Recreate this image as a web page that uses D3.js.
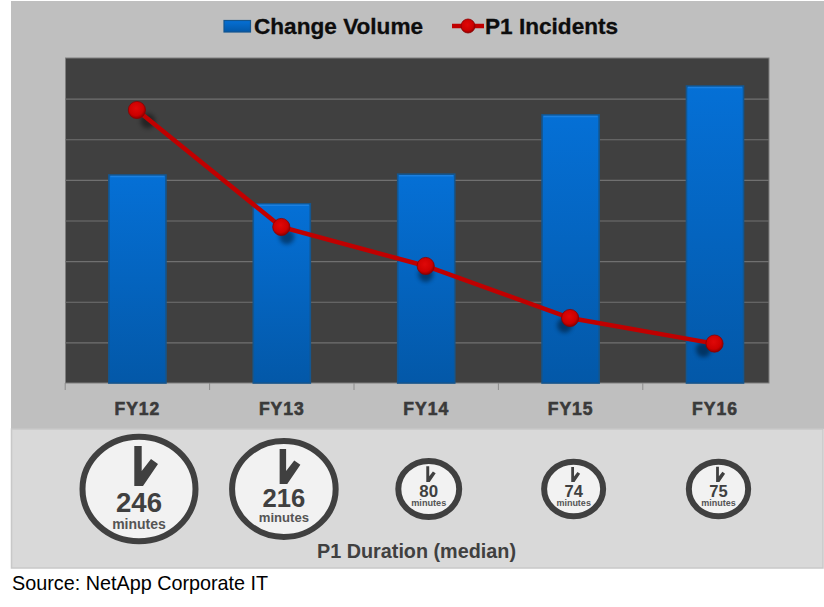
<!DOCTYPE html>
<html>
<head>
<meta charset="utf-8">
<script src="https://cdn.jsdelivr.net/npm/d3@7/dist/d3.min.js"></script>
<style>
  html, body { margin: 0; padding: 0; background: #fff; }
  svg { display: block; font-family: "Liberation Sans", Arial, sans-serif; }
</style>
</head>
<body>
<script>
const years = ["FY12", "FY13", "FY14", "FY15", "FY16"];
const changeVolume = [5.12, 4.41, 5.14, 6.6, 7.31];
const p1Incidents = [6.72, 3.84, 2.88, 1.6, 0.97];
const p1Duration = [246, 216, 80, 74, 75];
const gridTicks = [1, 2, 3, 4, 5, 6, 7];

const width = 824, height = 607;
const plot = {left: 65.5, right: 769, top: 58, bottom: 383};
const DARK = "#404040";

const svg = d3.select("body").append("svg")
  .attr("width", width)
  .attr("height", height);

// gradients and shadow
const defs = svg.append("defs");
const barGrad = defs.append("linearGradient")
  .attr("id", "barGrad").attr("x1", 0).attr("x2", 0).attr("y1", 0).attr("y2", 1);
barGrad.append("stop").attr("offset", "0%").attr("stop-color", "#0570d6");
barGrad.append("stop").attr("offset", "100%").attr("stop-color", "#0358a8");
const dotGrad = defs.append("radialGradient")
  .attr("id", "dotGrad").attr("cx", "45%").attr("cy", "40%").attr("r", "60%");
dotGrad.append("stop").attr("offset", "0%").attr("stop-color", "#e00808");
dotGrad.append("stop").attr("offset", "70%").attr("stop-color", "#cc0000");
dotGrad.append("stop").attr("offset", "100%").attr("stop-color", "#8c0000");
defs.append("filter").attr("id", "soft")
  .attr("x", "-50%").attr("y", "-50%").attr("width", "200%").attr("height", "200%")
  .append("feGaussianBlur").attr("stdDeviation", 2.2);

// panels
svg.append("rect").attr("x", 11).attr("y", 1).attr("width", 813).attr("height", 428).attr("fill", "#bfbfbf");
svg.append("rect").attr("x", 11.5).attr("y", 429).attr("width", 811.5).attr("height", 139)
  .attr("fill", "#d9d9d9").attr("stroke", "#c8c8c8").attr("stroke-width", 1.5);
svg.append("rect").attr("x", plot.left).attr("y", plot.top)
  .attr("width", plot.right - plot.left).attr("height", plot.bottom - plot.top)
  .attr("fill", DARK).attr("stroke", "#7f7f7f").attr("stroke-width", 1);

// last band runs past the plot edge in the original
const x = d3.scaleBand()
  .domain(years)
  .range([65.2, 65.2 + 5 * 144.4])
  .paddingInner(0.605)
  .paddingOuter(0.3025);

const y = d3.scaleLinear().domain([0, 8]).range([plot.bottom, plot.top]);

// grid
const yAxis = d3.axisLeft(y).tickValues(gridTicks).tickSize(-(plot.right - plot.left)).tickFormat("");
const gridG = svg.append("g").attr("transform", "translate(" + plot.left + ",0)").call(yAxis);
gridG.select(".domain").remove();
gridG.selectAll("line").attr("stroke", "#707070").attr("stroke-width", 1.2);

// bars
svg.selectAll(".bar").data(changeVolume).enter().append("rect")
  .attr("class", "bar")
  .attr("x", (d, i) => x(years[i]))
  .attr("y", d => y(d))
  .attr("width", x.bandwidth())
  .attr("height", d => y(0) - y(d))
  .attr("fill", "url(#barGrad)")
  .attr("stroke", "#14568f")
  .attr("stroke-width", 1.6);

svg.selectAll(".barTop").data(changeVolume).enter().append("line")
  .attr("class", "barTop")
  .attr("x1", (d, i) => x(years[i]) + 1.5)
  .attr("x2", (d, i) => x(years[i]) + x.bandwidth() - 1.5)
  .attr("y1", d => y(d) + 1.5)
  .attr("y2", d => y(d) + 1.5)
  .attr("stroke", "#1c80e0")
  .attr("stroke-width", 1.5);

// x axis: labels from the axis, ticks on the band edges
const xAxis = d3.axisBottom(x).tickSize(0).tickPadding(19.5);
const xG = svg.append("g").attr("transform", "translate(0," + plot.bottom + ")").call(xAxis);
xG.select(".domain").remove();
xG.selectAll("text")
  .attr("font-family", "Liberation Sans")
  .attr("font-size", 17.5)
  .attr("font-weight", "bold")
  .attr("letter-spacing", 1)
  .attr("fill", "#3a3a3a")
  .attr("stroke", "#3a3a3a")
  .attr("stroke-width", 0.6);

svg.selectAll(".edgeTick").data(years).enter().append("line")
  .attr("class", "edgeTick")
  .attr("x1", d => x(d) - x.step() * x.paddingOuter())
  .attr("x2", d => x(d) - x.step() * x.paddingOuter())
  .attr("y1", plot.bottom)
  .attr("y2", plot.bottom + 7)
  .attr("stroke", "#8c8c8c");

// p1 line
const cx = i => x(years[i]) + x.bandwidth() / 2 - 0.5;
const line = d3.line().x((d, i) => cx(i)).y(d => y(d));

// the shadow swings from lower right to lower left across the chart
const shadowDx = d3.scaleLinear().domain([0, 4]).range([11, -11]);
const shadowDy = d3.scaleLinear().domain([0, 4]).range([11, 6]);

svg.selectAll(".dotShadow").data(p1Incidents).enter().append("circle")
  .attr("class", "dotShadow")
  .attr("cx", (d, i) => cx(i) + shadowDx(i))
  .attr("cy", (d, i) => y(d) + shadowDy(i))
  .attr("r", 7.5)
  .attr("fill", "#000")
  .attr("opacity", 0.42)
  .attr("filter", "url(#soft)");

svg.append("path").datum(p1Incidents)
  .attr("d", line)
  .attr("fill", "none")
  .attr("stroke", "#c00000")
  .attr("stroke-width", 4.5);

svg.selectAll(".dot").data(p1Incidents).enter().append("circle")
  .attr("class", "dot")
  .attr("cx", (d, i) => cx(i))
  .attr("cy", d => y(d))
  .attr("r", 8.6)
  .attr("fill", "url(#dotGrad)")
  .attr("stroke", "#8c0000")
  .attr("stroke-width", 0.8);

// legend
const legendText = (tx, label) => svg.append("text")
  .attr("x", tx).attr("y", 33.5)
  .attr("font-size", 22.6).attr("font-weight", "bold").attr("fill", "#0d0d0d")
  .attr("stroke", "#0d0d0d").attr("stroke-width", 0.3)
  .text(label);

svg.append("rect").attr("x", 224).attr("y", 20.5).attr("width", 26.5).attr("height", 11.5)
  .attr("fill", "url(#barGrad)").attr("stroke", "#14568f").attr("stroke-width", 1.2);
legendText(254, "Change Volume");
svg.append("line").attr("x1", 452).attr("x2", 484).attr("y1", 26).attr("y2", 26)
  .attr("stroke", "#c00000").attr("stroke-width", 4.5);
svg.append("circle").attr("cx", 468).attr("cy", 26).attr("r", 7)
  .attr("fill", "url(#dotGrad)").attr("stroke", "#8c0000").attr("stroke-width", 0.8);
legendText(485, "P1 Incidents");

// clocks, everything sized from the duration value
const clockX = d3.scalePoint().domain(years).range([139, 718.5]);
const clockY = 489;
const clockR = d3.scaleLinear().domain([74, 246]).range([32.5, 59.5]);
const numSize = d3.scaleLinear().domain([74, 246]).range([16.5, 27.6]);
const minSize = d3.scaleLinear().domain([74, 246]).range([9, 14]);
const numBase = d3.scaleLinear().domain([74, 216, 246]).range([7.5, 18, 23]);
const minBase = d3.scaleLinear().domain([74, 216, 246]).range([16.5, 32.7, 40]);
const handLen = d3.scaleLinear().domain([74, 216, 246]).range([15, 35, 40]);
const handEnd = d3.scaleLinear().domain([74, 216, 246]).range([-7, -5, -3]);

const clocks = svg.selectAll(".clock").data(p1Duration).enter().append("g")
  .attr("class", "clock")
  .attr("transform", (d, i) => "translate(" + clockX(years[i]) + "," + clockY + ")");

clocks.append("ellipse")
  .attr("rx", d => clockR(d) - 3)
  .attr("ry", d => clockR(d) * 0.93 - 3)
  .attr("fill", "#f2f2f2")
  .attr("stroke", DARK)
  .attr("stroke-width", 6);

clocks.append("path")
  .attr("d", "M-3.7,0L-3.7,-40L3.7,-40L3.7,-15L13,-27L20,-22L5,0Z")
  .attr("fill", DARK)
  .attr("transform", d => "translate(-1," + handEnd(d) + ") scale(" + handLen(d) / 40 + ")");

clocks.append("text")
  .attr("text-anchor", "middle")
  .attr("y", d => numBase(d))
  .attr("font-size", d => numSize(d))
  .attr("font-weight", "bold")
  .attr("fill", DARK)
  .text(d => d);

clocks.append("text")
  .attr("text-anchor", "middle")
  .attr("y", d => minBase(d))
  .attr("font-size", d => minSize(d))
  .attr("font-weight", "bold")
  .attr("fill", "#555")
  .text("minutes");

svg.append("text")
  .attr("x", 416.5).attr("y", 558)
  .attr("text-anchor", "middle")
  .attr("font-size", 19.8).attr("font-weight", "bold").attr("fill", DARK)
  .text("P1 Duration (median)");

svg.append("text")
  .attr("x", 12).attr("y", 590)
  .attr("font-size", 19.8).attr("fill", "#000")
  .text("Source: NetApp Corporate IT");
</script>
</body>
</html>
